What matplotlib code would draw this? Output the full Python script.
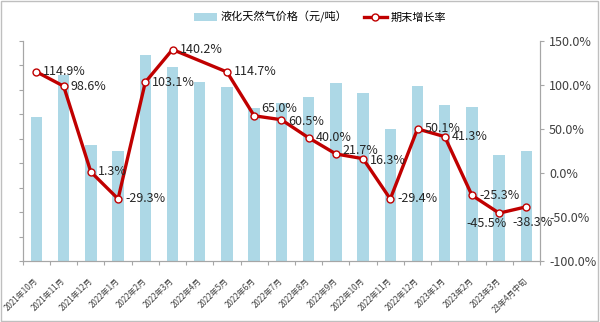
import numpy as np
import matplotlib
matplotlib.use("Agg")
import matplotlib.pyplot as plt
from matplotlib.patches import Patch, Rectangle
from matplotlib.lines import Line2D

# Fuente con glifos chinos
plt.rcParams['font.family'] = ['Noto Sans CJK SC', 'DejaVu Sans']

# Datos
meses = ['2021年10月', '2021年11月', '2021年12月', '2022年1月', '2022年2月', '2022年3月',
         '2022年4月', '2022年5月', '2022年6月', '2022年7月', '2022年8月', '2022年9月',
         '2022年10月', '2022年11月', '2022年12月', '2023年1月', '2023年2月', '2023年3月',
         '23年4月中旬']
precio = [5880, 7600, 4750, 4490, 8430, 7950, 7310, 7120, 6250, 6480, 6700, 7270,
          6860, 5390, 7170, 6370, 6300, 4320, 4490]
# 2022年4月 no tiene valor de crecimiento
crecimiento = [114.9, 98.6, 1.3, -29.3, 103.1, 140.2, np.nan, 114.7, 65.0, 60.5, 40.0,
               21.7, 16.3, -29.4, 50.1, 41.3, -25.3, -45.5, -38.3]

color_barra = '#ADD8E6'
color_linea = '#C00000'
color_eje = '#A6A6A6'

fig = plt.figure(figsize=(6, 3.22), dpi=100)
ax = fig.add_axes([0.038, 0.189, 0.862, 0.684])
ax2 = ax.twinx()

x = np.arange(len(meses))
ax.bar(x, precio, width=0.42, color=color_barra, zorder=2)
ax.set_xlim(-0.5, len(meses) - 0.5)
ax.set_ylim(0, 9000)
ax.set_yticks(np.arange(0, 9001, 1000))
ax.set_yticklabels([])

# Ticks del eje x entre categorias, etiquetas giradas
ax.set_xticks(np.arange(-0.5, len(meses), 1.0))
ax.set_xticklabels([])
ax.set_xticks(x, minor=True)
ax.set_xticklabels(meses, minor=True, rotation=45, ha='right', va='center',
                   rotation_mode='anchor', fontsize=5.8, color='#404040')
ax.tick_params(axis='x', which='minor', length=0, pad=13)
ax.tick_params(axis='x', which='major', length=3, color=color_eje)
ax.tick_params(axis='y', length=3, color=color_eje)

# Linea de crecimiento (une los puntos saltando el hueco)
serie = np.array(crecimiento)
ok = ~np.isnan(serie)
ax2.plot(x[ok], serie[ok], color=color_linea, linewidth=2.4, marker='o',
         markersize=5, markerfacecolor='white', markeredgecolor=color_linea,
         markeredgewidth=1, zorder=3)
ax2.set_ylim(-100, 150)
ax2.set_yticks(np.arange(-100, 151, 50))
ax2.set_yticklabels([f'{v:.1f}%' for v in np.arange(-100, 151, 50)], fontsize=9,
                    color='#404040')
ax2.tick_params(axis='y', length=3, color=color_eje)

# Posiciones de etiquetas (pixeles respecto al punto)
desplazamientos = {8: (7, 7), 9: (7, -2), 11: (7, 3), 12: (7, -2),
                   17: (-33, -10), 18: (-14, -16)}
for i, v in enumerate(crecimiento):
    if np.isnan(v):
        continue
    dx, dy = desplazamientos.get(i, (7, 0))
    ax2.annotate(f'{v:.1f}%', (x[i], v), xytext=(dx, dy), textcoords='offset pixels',
                 ha='left', va='center', fontsize=9, color='#262626', zorder=4)

for a in (ax, ax2):
    a.spines['top'].set_visible(False)
    for lado in ('left', 'right', 'bottom'):
        a.spines[lado].set_color(color_eje)

# Leyenda arriba
manejadores = [Patch(facecolor=color_barra, edgecolor='none'),
               Line2D([], [], color=color_linea, linewidth=2.4, marker='o', markersize=5,
                      markerfacecolor='white', markeredgecolor=color_linea)]
fig.legend(manejadores, ['液化天然气价格（元/吨）', '期末增长率'], loc='center',
           bbox_to_anchor=(0.533, 0.947), ncol=2, frameon=False, fontsize=8,
           handlelength=2.1, columnspacing=1.5, handletextpad=0.3)

# Marco gris alrededor de la imagen
fig.patches.append(Rectangle((0.002, 0.003), 0.995, 0.993, transform=fig.transFigure,
                             fill=False, edgecolor='#BFBFBF', linewidth=1))

plt.savefig('out.png', dpi=100)
